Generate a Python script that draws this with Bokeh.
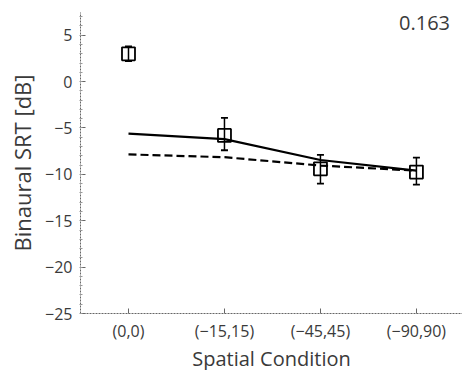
from bokeh.plotting import figure
from bokeh.models import ColumnDataSource, Whisker, Label, FixedTicker, Range1d
from bokeh.embed import file_html
from bokeh.resources import INLINE

conditions = ["(0,0)", "(\u221215,15)", "(\u221245,45)", "(\u221290,90)"]
xpos = [0, 1, 2, 3]
srt_mean = [3.0, -5.8, -9.4, -9.75]
srt_upper = [3.8, -3.9, -7.9, -8.2]
srt_lower = [2.2, -7.4, -11.0, -11.1]
model_solid = [-5.6, -6.2, -8.45, -9.6]
model_dashed = [-7.85, -8.15, -9.05, -9.6]
corr_text = "0.163"
yticks = [-25, -20, -15, -10, -5, 0, 5]

FONT = "Open Sans"
TXT = "#3a3a3a"

p = figure(frame_width=382, frame_height=301, output_backend="svg", toolbar_location=None,
           x_range=Range1d(-0.5, 3.48), y_range=Range1d(-25, 7.45),
           min_border_left=80, min_border_right=0, min_border_top=12, min_border_bottom=56)
p.outline_line_color = None
p.xgrid.visible = False
p.ygrid.visible = False

# model lines
p.line(xpos, model_solid, line_color="black", line_width=2.2)
p.line(xpos, model_dashed, line_color="black", line_width=2.2, line_dash="8 4")

src = ColumnDataSource(dict(x=xpos, m=srt_mean, up=srt_upper, lo=srt_lower))
p.scatter("x", "m", source=src, marker="square", size=13, fill_color="white", fill_alpha=0,
          line_color="black", line_width=1.8)
w = Whisker(source=src, base="x", upper="up", lower="lo", line_color="black", line_width=1.5)
for h in (w.upper_head, w.lower_head):
    h.size = 7
    h.line_color = "black"
    h.line_width = 1.8
p.add_layout(w)

p.add_layout(Label(x=3.35, y=6.3, text=corr_text, text_align="right", text_baseline="middle",
                   text_font=FONT, text_font_size="20px", text_color=TXT))

# axes
p.xaxis.ticker = FixedTicker(ticks=xpos)
p.xaxis.major_label_overrides = {x: c for x, c in zip(xpos, conditions)}
p.yaxis.ticker = FixedTicker(ticks=yticks, minor_ticks=list(range(-25, 8)))
for ax in (p.xaxis[0], p.yaxis[0]):
    ax.axis_line_color = "#666666"
    ax.axis_line_width = 1
    ax.axis_line_dash = "2 1"
    ax.major_tick_line_color = "#666666"
    ax.major_tick_in = 5
    ax.major_tick_out = 0
    ax.minor_tick_in = 2
    ax.minor_tick_out = 1
    ax.minor_tick_line_color = "#999999"
    ax.major_label_text_font = FONT
    ax.major_label_text_font_size = "16px"
    ax.major_label_text_color = TXT
    ax.major_label_text_line_height = 1.0
    ax.axis_label_text_font = FONT
    ax.axis_label_text_font_size = "20px"
    ax.axis_label_text_font_style = "normal"
    ax.axis_label_text_color = TXT
    ax.axis_label_text_line_height = 1.0
    ax.axis_label_standoff = 0
p.xaxis.minor_tick_line_color = None
p.xaxis.axis_label = "Spatial Condition"
p.yaxis.axis_label = "Binaural SRT [dB]"
p.yaxis.axis_label_text_font_size = "22px"
p.yaxis.axis_label_standoff = 5
p.yaxis.major_label_overrides = {v: str(v).replace("-", "\u2212") for v in yticks}
p.xaxis.major_label_standoff = 6
p.yaxis.major_label_standoff = 7

open("out.html", "w").write(file_html(p, INLINE))
